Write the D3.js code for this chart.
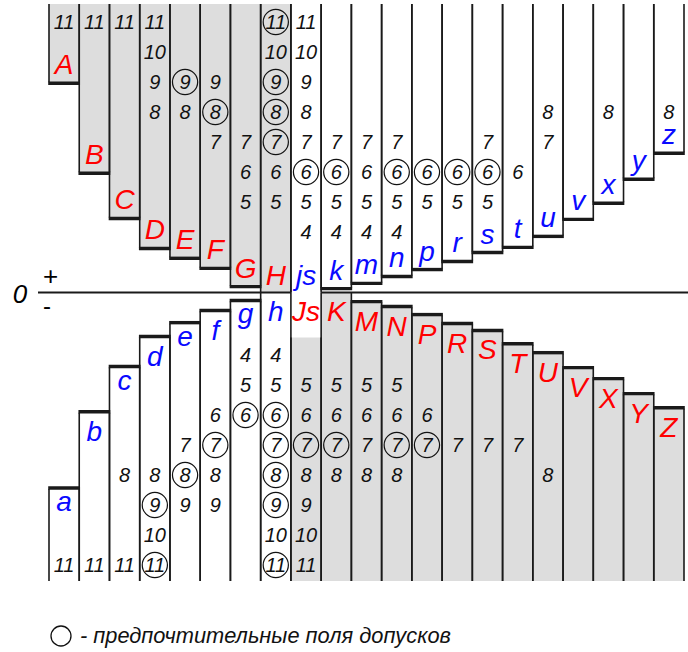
<!DOCTYPE html>
<html>
<head>
<meta charset="utf-8">
<script src="https://cdn.jsdelivr.net/npm/d3@7"></script>
<style>
  body { margin: 0; background: #fff; }
  text { font-family: "Liberation Sans", Arial, sans-serif; font-style: italic; }
</style>
</head>
<body>
<div id="chart"></div>
<script>
// Tolerance fields of holes and shafts (schematic)
// ======================================================

// Column names, upper row (holes A-H, shafts js-z) and lower row (shafts a-h, holes Js-Z)
var upperNames = ["A","B","C","D","E","F","G","H","js","k","m","n","p","r","s","t","u","v","x","y","z"];
var lowerNames = ["a","b","c","d","e","f","g","h","Js","K","M","N","P","R","S","T","U","V","X","Y","Z"];

// Fundamental deviation, relative units (top of field = +100, bottom = -100)
var upperDev = [72.9, 41.7, 26.0, 15.6, 12.2, 8.7, 2.4, 0, 0, 1.7, 3.5, 5.9, 8.3, 11.1, 14.2, 16.0, 19.8, 25.7, 31.3, 39.6, 48.6];
var lowerDev = [-68.1, -41.7, -26.0, -15.6, -10.8, -6.6, -3.1, 0, -15.6, 0, -3.5, -5.2, -8.0, -11.1, -13.5, -18.1, -21.2, -26.4, -30.2, -35.4, -40.3];

// Tolerance grades shown in each column
var upperGrades = [[11],[11],[11],[11,10,9,8],[9,8],[9,8,7],[7,6,5],[11,10,9,8,7,6,5],
  [11,10,9,8,7,6,5,4],[7,6,5,4],[7,6,5,4],[7,6,5,4],[6,5],[6,5],[7,6,5],[6],[8,7],[],[8],[],[8]];
var upperPreferred = [[],[],[],[],[9],[8],[],[11,9,8,7],[6],[6],[],[6],[6],[6],[6],[],[],[],[],[],[]];

var lowerGrades = [[11],[11],[8,11],[8,9,10,11],[7,8,9],[6,7,8,9],[4,5,6],[4,5,6,7,8,9,10,11],
  [5,6,7,8,9,10,11],[5,6,7,8],[5,6,7,8],[5,6,7,8],[6,7],[7],[7],[7],[8],[],[],[],[]];
var lowerPreferred = [[],[],[],[9,11],[8],[7],[6],[6,7,8,9,11],[7],[7],[],[7],[7],[],[],[],[],[],[],[],[]];

var gradeRows = [4, 5, 6, 7, 8, 9, 10, 11];

var legendText = "- предпочтительные поля допусков";

// Section 1: canvas and scales
// ======================================================
var width = 688;
var height = 652;
var gray = "#dddddd";
var red = "#ff0000";
var blue = "#0a0aff";
var ink = "#1a1a1a";

var svg = d3.select("#chart")
  .append("svg")
  .attr("width", width)
  .attr("height", height);

var xScale = d3.scaleBand()
  .domain(d3.range(upperNames.length))
  .range([49, 684])
  .padding(0);

var yScale = d3.scaleLinear()
  .domain([-100, 100])
  .range([581, 4]);

var yUpperGrade = d3.scalePoint()
  .domain(gradeRows.slice().reverse())
  .range([22, 232]);

var yLowerGrade = d3.scalePoint()
  .domain(gradeRows)
  .range([355, 565]);

var bw = xScale.bandwidth();

function isHole(name) {
  return name[0] === name[0].toUpperCase();
}

// Section 2: bars
// ======================================================
var upperData = upperNames.map(function(n, i) {
  return { name: n, i: i, dev: upperDev[i], grades: upperGrades[i], pref: upperPreferred[i] };
});
var lowerData = lowerNames.map(function(n, i) {
  return { name: n, i: i, dev: lowerDev[i], grades: lowerGrades[i], pref: lowerPreferred[i] };
});

var bars = svg.append("g").attr("class", "bars");

// upper fields: from top of picture down to the deviation
bars.selectAll("rect.upper")
  .data(upperData)
  .enter()
  .append("rect")
  .attr("class", "upper")
  .attr("x", function(d) { return xScale(d.i); })
  .attr("y", yScale(100))
  .attr("width", bw)
  .attr("height", function(d) { return yScale(d.dev) - yScale(100); })
  .attr("fill", function(d) { return isHole(d.name) ? gray : "#fff"; });

// lower fields: from deviation down to the bottom
bars.selectAll("rect.lower")
  .data(lowerData)
  .enter()
  .append("rect")
  .attr("class", "lower")
  .attr("x", function(d) { return xScale(d.i); })
  .attr("y", function(d) { return yScale(d.dev); })
  .attr("width", bw)
  .attr("height", function(d) { return yScale(-100) - yScale(d.dev); })
  .attr("fill", function(d) { return isHole(d.name) ? gray : "#fff"; });

// side lines
var sides = bars.append("g").attr("stroke", ink).attr("stroke-width", 1.6);

upperData.forEach(function(d) {
  [xScale(d.i), xScale(d.i) + bw].forEach(function(x) {
    sides.append("line")
      .attr("x1", x).attr("x2", x)
      .attr("y1", yScale(100)).attr("y2", yScale(d.dev));
  });
});
lowerData.forEach(function(d) {
  [xScale(d.i), xScale(d.i) + bw].forEach(function(x) {
    sides.append("line")
      .attr("x1", x).attr("x2", x)
      .attr("y1", yScale(d.dev)).attr("y2", yScale(-100));
  });
});

// thick deviation edges
var edges = bars.append("g").attr("stroke", ink).attr("stroke-width", 3.4);

upperData.filter(function(d) { return d.dev > 0; }).forEach(function(d) {
  edges.append("line")
    .attr("x1", xScale(d.i) - 0.8).attr("x2", xScale(d.i) + bw + 0.8)
    .attr("y1", yScale(d.dev) + 1).attr("y2", yScale(d.dev) + 1);
});
lowerData.filter(function(d) { return d.dev < 0 && d.name !== "Js"; }).forEach(function(d) {
  edges.append("line")
    .attr("x1", xScale(d.i) - 0.8).attr("x2", xScale(d.i) + bw + 0.8)
    .attr("y1", yScale(d.dev) - 1).attr("y2", yScale(d.dev) - 1);
});

// Section 3: zero line
// ======================================================
var jsIndex = upperNames.indexOf("js");
var zeroY = yScale(0);

svg.append("line")
  .attr("x1", 38).attr("x2", xScale(jsIndex))
  .attr("y1", zeroY).attr("y2", zeroY)
  .attr("stroke", ink).attr("stroke-width", 2);

svg.append("line")
  .attr("x1", xScale(jsIndex) + bw).attr("x2", width)
  .attr("y1", zeroY).attr("y2", zeroY)
  .attr("stroke", ink).attr("stroke-width", 2);

svg.append("text")
  .attr("x", 20).attr("y", zeroY + 10)
  .attr("text-anchor", "middle")
  .attr("font-size", 26)
  .text("0");

svg.append("text")
  .attr("x", 50.5).attr("y", zeroY - 8)
  .attr("text-anchor", "middle")
  .attr("font-size", 26)
  .style("font-style", "normal")
  .text("+");

svg.append("text")
  .attr("x", 47).attr("y", zeroY + 21)
  .attr("text-anchor", "middle")
  .attr("font-size", 24)
  .style("font-style", "normal")
  .text("-");

// Section 4: field letters
// ======================================================
var letterSize = 28;
var xHeightOnly = "acegmnprsuvwxyz";

svg.append("g").selectAll("text")
  .data(upperData)
  .enter()
  .append("text")
  .attr("x", function(d) { return xScale(d.i) + bw / 2; })
  .attr("y", function(d) { return yScale(d.dev) - 8; })
  .attr("text-anchor", "middle")
  .attr("font-size", letterSize)
  .attr("fill", function(d) { return isHole(d.name) ? red : blue; })
  .text(function(d) { return d.name; });

svg.append("g").selectAll("text")
  .data(lowerData)
  .enter()
  .append("text")
  .attr("x", function(d) { return xScale(d.i) + bw / 2; })
  .attr("y", function(d) {
    var top = d.name === "Js" ? 0 : d.dev;
    var off = xHeightOnly.indexOf(d.name) >= 0 ? 22 : 28;
    return yScale(top) + off;
  })
  .attr("text-anchor", "middle")
  .attr("font-size", letterSize)
  .attr("fill", function(d) { return isHole(d.name) ? red : blue; })
  .text(function(d) { return d.name; });

// Section 5: grade numbers and preferred circles
// ======================================================
function drawGrades(data, yGrade) {
  var g = svg.append("g");
  data.forEach(function(d) {
    var cx = xScale(d.i) + bw / 2;
    d.grades.forEach(function(gr) {
      var cy = yGrade(gr);
      g.append("text")
        .attr("x", cx)
        .attr("y", cy)
        .attr("dy", "0.36em")
        .attr("text-anchor", "middle")
        .attr("font-size", 20)
        .attr("fill", "#111")
        .text(gr);
      if (d.pref.indexOf(gr) >= 0) {
        g.append("circle")
          .attr("cx", cx)
          .attr("cy", cy)
          .attr("r", 12.6)
          .attr("fill", "none")
          .attr("stroke", "#111")
          .attr("stroke-width", 1.2);
      }
    });
  });
}
drawGrades(upperData, yUpperGrade);
drawGrades(lowerData, yLowerGrade);

// Section 6: legend
// ======================================================
svg.append("circle")
  .attr("cx", 61).attr("cy", 636)
  .attr("r", 10)
  .attr("fill", "none")
  .attr("stroke", "#111")
  .attr("stroke-width", 1.3);

svg.append("text")
  .attr("x", 80).attr("y", 643)
  .attr("font-size", 21.8)
  .attr("fill", "#111")
  .text(legendText);
</script>
</body>
</html>
